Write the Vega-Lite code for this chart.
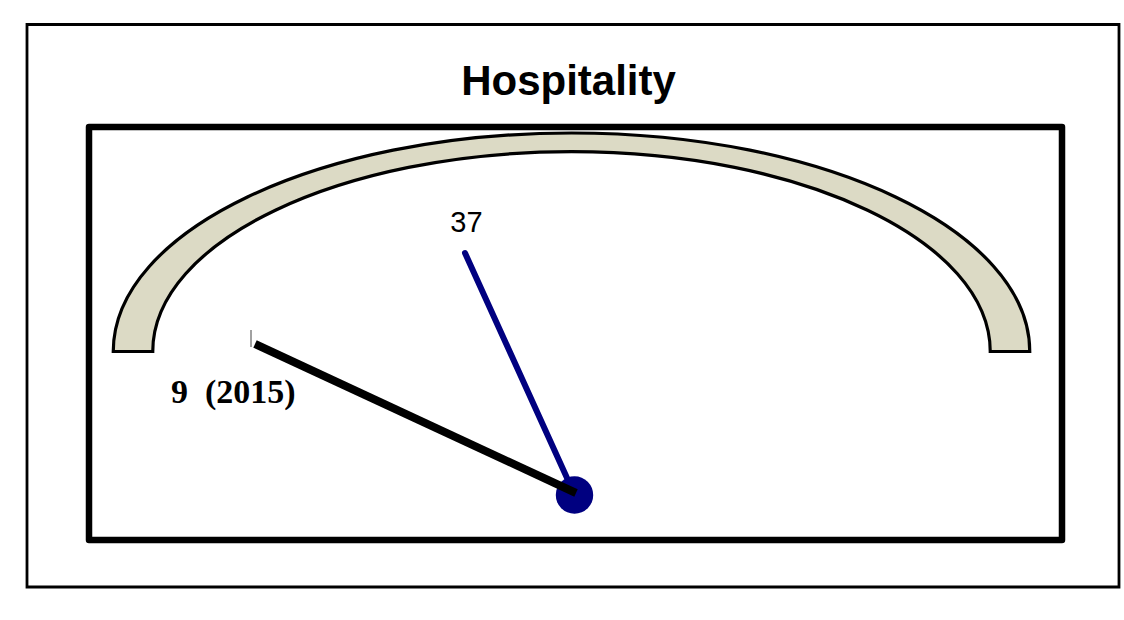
{
  "$schema": "https://vega.github.io/schema/vega-lite/v6.json",
  "width": 1124,
  "height": 620,
  "autosize": {"type": "fit", "contains": "padding"},
  "padding": 0,
  "background": "white",
  "datasets": {
    "frames": [
      {"part": "outer", "x": 27, "y": 24.5, "x2": 1119, "y2": 587},
      {"part": "inner", "x": 89, "y": 127, "x2": 1062, "y2": 540}
    ],
    "dial": [
      {"x": 571.5, "y": 351.5}
    ],
    "titles": [
      {"x": 568.5, "y": 95, "label": "Hospitality"}
    ],
    "needles": [
      {"series": "2015", "value": 9, "x": 576, "y": 493, "x2": 255, "y2": 344},
      {"series": "current", "value": 37, "x": 574.5, "y": 494.5, "x2": 465, "y2": 253}
    ],
    "marker": [
      {"x": 251, "y": 330, "x2": 251, "y2": 347}
    ],
    "pivot": [
      {"x": 574.5, "y": 495}
    ],
    "labels": [
      {"series": "current", "x": 466.4, "y": 231.7, "label": "37"},
      {"series": "2015", "x": 171, "y": 403, "label": "9\u00a0\u00a0(2015)"}
    ]
  },
  "encoding": {
    "x": {
      "field": "x",
      "type": "quantitative",
      "scale": {"domain": [0, 1124], "nice": false, "zero": false},
      "axis": null
    },
    "y": {
      "field": "y",
      "type": "quantitative",
      "scale": {"domain": [0, 620], "nice": false, "zero": false, "reverse": true},
      "axis": null
    }
  },
  "layer": [
    {
      "data": {"name": "frames"},
      "transform": [{"filter": "datum.part == 'outer'"}],
      "mark": {"type": "rect", "fill": "transparent", "stroke": "black", "strokeWidth": 2.8},
      "encoding": {
        "x2": {"field": "x2"},
        "y2": {"field": "y2"}
      }
    },
    {
      "data": {"name": "frames"},
      "transform": [{"filter": "datum.part == 'inner'"}],
      "mark": {"type": "rect", "fill": "transparent", "stroke": "black", "strokeWidth": 6.5, "strokeJoin": "round"},
      "encoding": {
        "x2": {"field": "x2"},
        "y2": {"field": "y2"}
      }
    },
    {
      "data": {"name": "dial"},
      "mark": {
        "type": "point",
        "shape": "M -1 0 C -1 -0.2633 -0.5523 -0.4768 0 -0.4768 C 0.5523 -0.4768 1 -0.2633 1 0 L 0.9138 0 C 0.9138 -0.2408 0.5047 -0.436 0 -0.436 C -0.5047 -0.436 -0.9138 -0.2408 -0.9138 0 Z",
        "size": 839972,
        "filled": true,
        "color": "#DCDAC5",
        "fill": "#DCDAC5",
        "stroke": "black",
        "strokeWidth": 3.2,
        "opacity": 1
      }
    },
    {
      "data": {"name": "titles"},
      "mark": {
        "type": "text",
        "align": "center",
        "baseline": "alphabetic",
        "font": "Liberation Sans",
        "fontWeight": "bold",
        "fontSize": 42,
        "color": "black"
      },
      "encoding": {"text": {"field": "label"}}
    },
    {
      "data": {"name": "marker"},
      "mark": {"type": "rule", "color": "#444444", "strokeWidth": 1},
      "encoding": {
        "x2": {"field": "x2"},
        "y2": {"field": "y2"}
      }
    },
    {
      "data": {"name": "needles"},
      "transform": [{"filter": "datum.series == 'current'"}],
      "mark": {"type": "rule", "color": "#000080", "strokeWidth": 6, "strokeCap": "round"},
      "encoding": {
        "x2": {"field": "x2"},
        "y2": {"field": "y2"}
      }
    },
    {
      "data": {"name": "pivot"},
      "mark": {"type": "point", "shape": "circle", "size": 1400, "filled": true, "color": "#000080", "opacity": 1}
    },
    {
      "data": {"name": "needles"},
      "transform": [{"filter": "datum.series == '2015'"}],
      "mark": {"type": "rule", "color": "black", "strokeWidth": 8, "strokeCap": "butt"},
      "encoding": {
        "x2": {"field": "x2"},
        "y2": {"field": "y2"}
      }
    },
    {
      "data": {"name": "labels"},
      "transform": [{"filter": "datum.series == 'current'"}],
      "mark": {
        "type": "text",
        "align": "center",
        "baseline": "alphabetic",
        "font": "Liberation Sans",
        "fontSize": 29,
        "color": "black"
      },
      "encoding": {"text": {"field": "label"}}
    },
    {
      "data": {"name": "labels"},
      "transform": [{"filter": "datum.series == '2015'"}],
      "mark": {
        "type": "text",
        "align": "left",
        "baseline": "alphabetic",
        "font": "Liberation Serif",
        "fontWeight": "bold",
        "fontSize": 34,
        "color": "black"
      },
      "encoding": {"text": {"field": "label"}}
    }
  ],
  "config": {
    "view": {"stroke": null}
  }
}
